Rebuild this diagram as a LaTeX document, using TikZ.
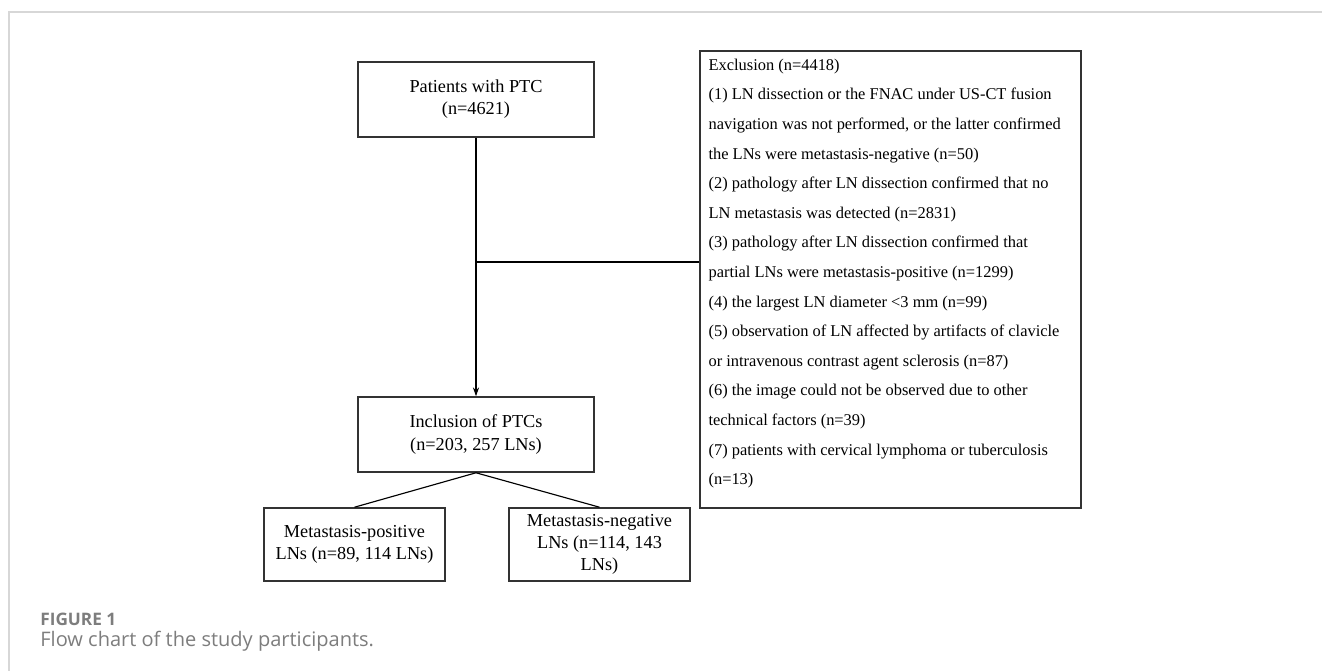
\documentclass[tikz,border=0pt]{standalone}
\usepackage{fontspec}
\setmainfont{Liberation Serif}
\newfontfamily\capfont{Open Sans}
\usetikzlibrary{arrows.meta}
\definecolor{capgray}{RGB}{125,125,125}
\definecolor{framegray}{RGB}{215,215,215}
\tikzset{auto,
  box/.style={draw=black!80, line width=0.9pt, align=center, inner sep=0pt,
    font=\fontsize{10.4}{12.6}\selectfont},
  flow/.style={line width=0.65pt},
  capt/.style={anchor=west, inner sep=0pt, text=capgray}}

\begin{document}
\begin{tikzpicture}[x=0.02cm, y=-0.02cm]
        \useasboundingbox (0,0) rectangle (1322,671);
        \draw[framegray, line width=0.7pt] (1322,12) -- (9,12) -- (9,671);
        \node (pat) [box, minimum width=4.72cm, minimum height=1.5cm] at (476,99.5) {Patients with PTC\\(n=4621)};
        \node (inc) [box, minimum width=4.72cm, minimum height=1.5cm] at (476,434.5) {Inclusion of PTCs\\(n=203, 257 LNs)};
        \node (pos) [box, minimum width=3.62cm, minimum height=1.46cm] at (354.5,544.5) {Metastasis-positive\\LNs (n=89, 114 LNs)};
        \node (neg) [box, minimum width=3.62cm, minimum height=1.46cm] at (599.5,544.5) {Metastasis-negative\\LNs (n=114, 143\\LNs)};
        \node (exc) [box, minimum width=7.62cm, minimum height=9.14cm] at (890.5,279.5) {};
        \node (exctext) [anchor=north west, align=left, inner xsep=5.1pt, inner ysep=4.7pt,
          font=\fontsize{9.35}{16.85}\selectfont] at (exc.north west) {Exclusion (n=4418)\\
          (1) LN dissection or the FNAC under US-CT fusion\\
          navigation was not performed, or the latter confirmed\\
          the LNs were metastasis-negative (n=50)\\
          (2) pathology after LN dissection confirmed that no\\
          LN metastasis was detected (n=2831)\\
          (3) pathology after LN dissection confirmed that\\
          partial LNs were metastasis-positive (n=1299)\\
          (4) the largest LN diameter <3 mm (n=99)\\
          (5) observation of LN affected by artifacts of clavicle\\
          or intravenous contrast agent sclerosis (n=87)\\
          (6) the image could not be observed due to other\\
          technical factors (n=39)\\
          (7) patients with cervical lymphoma or tuberculosis\\
          (n=13)};
        \coordinate (j) at (pat.south |- 0,262);
        \draw[flow, -{Stealth[length=5pt, width=3.5pt]}] (pat) -- (inc);
        \draw[flow] (j) -- (j -| exc.west);
        \draw[flow] (inc.south) -- (pos.north);
        \draw[flow] (inc.south) -- (neg.north);
        \node (fig) [capt] at (40,619) {\capfont\fontsize{9.8}{11}\selectfont\bfseries FIGURE 1};
        \node (cap) [capt] at (40,641) {\capfont\fontsize{11.4}{13}\selectfont Flow chart of the study participants.};
      \end{tikzpicture}
\end{document}
